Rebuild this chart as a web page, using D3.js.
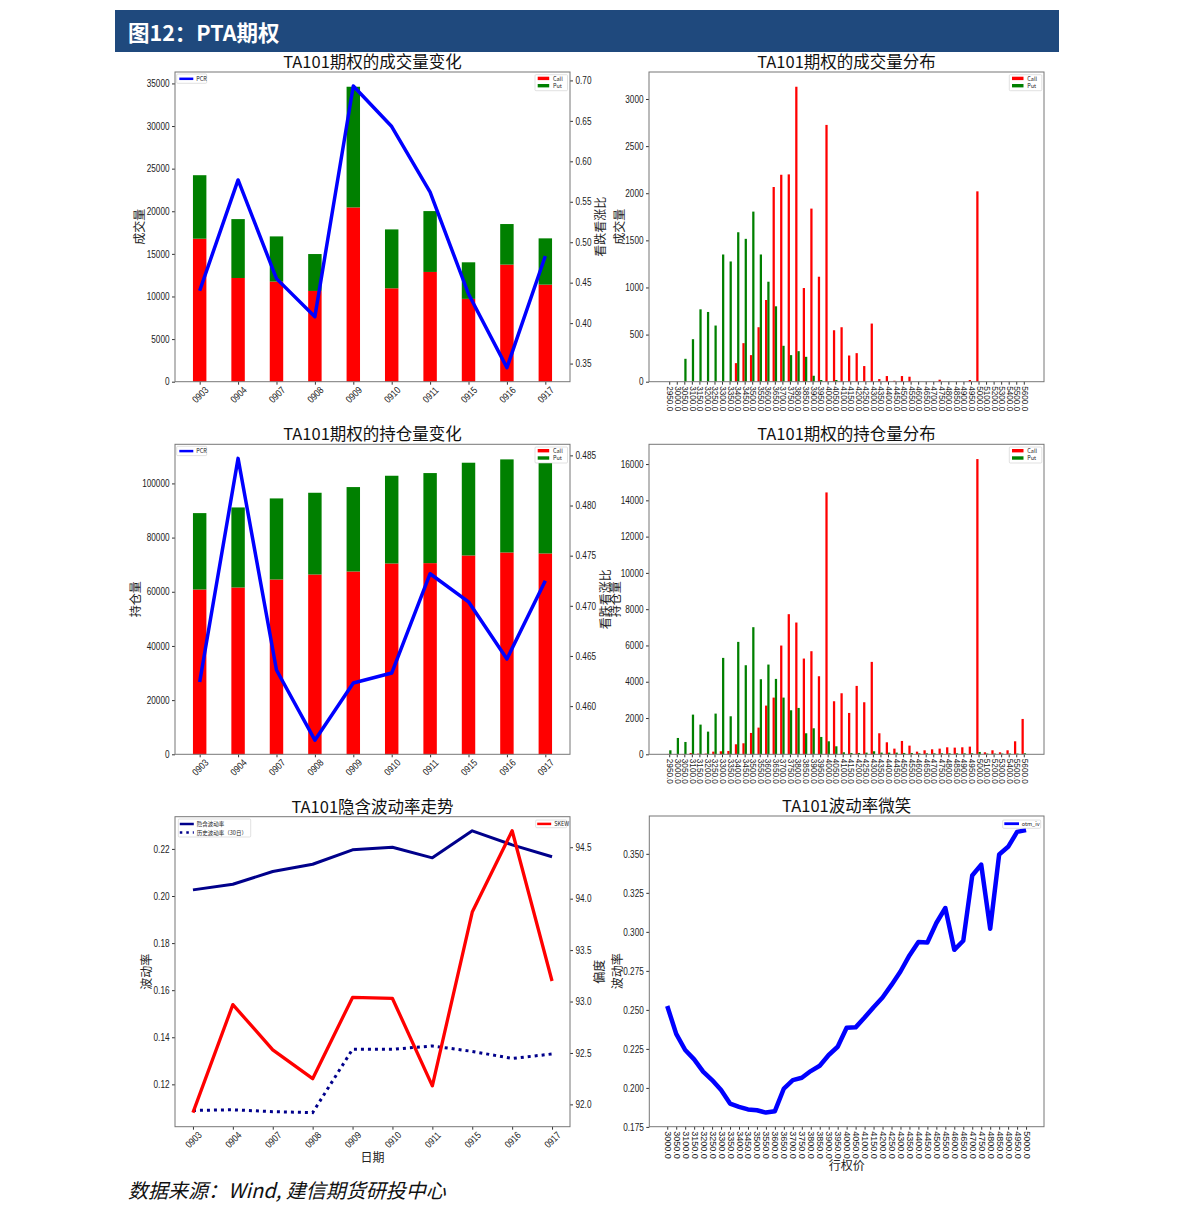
<!DOCTYPE html>
<html><head><meta charset="utf-8">
<script src="https://cdn.jsdelivr.net/npm/d3@7"></script>
<style>body{margin:0;background:#fff}text{font-family:"Noto Sans CJK SC","Noto Sans",sans-serif}</style>
</head><body><svg id="c" width="1191" height="1221"></svg>
<script>
// ---------------- DATA ----------------
const dates = ["0903","0904","0907","0908","0909","0910","0911","0915","0916","0917"];
const volCall = [16780,12170,11750,10650,20450,10960,12880,9720,13740,11390];
const volPut  = [7450,6910,5300,4330,14160,6910,7140,4290,4760,5430];
const volPCR  = [0.440,0.577,0.455,0.408,0.693,0.643,0.562,0.436,0.345,0.483];
const oiCall  = [60840,61580,64530,66380,67490,70440,70570,73400,74510,74140];
const oiPut   = [28200,29550,29930,30170,31160,32390,33250,34240,34360,34850];
const oiPCR   = [0.4624,0.4847,0.4636,0.4566,0.4623,0.4633,0.4732,0.4704,0.4647,0.4725];
const ivImplied = [0.2026,0.2050,0.2104,0.2135,0.2196,0.2207,0.2162,0.2277,0.2217,0.2167];
const ivHist    = [0.1089,0.1092,0.1084,0.1080,0.1349,0.1349,0.1363,0.1340,0.1310,0.1329];
const skew      = [91.92,92.97,92.53,92.25,93.04,93.03,92.18,93.87,94.66,93.20];

const strikeLabels = ["2950.0","3000.0","3050.0","3100.0","3150.0","3200.0","3250.0","3300.0","3350.0","3400.0","3450.0","3500.0","3550.0","3600.0","3650.0","3700.0","3750.0","3800.0","3850.0","3900.0","3950.0","4000.0","4050.0","4100.0","4150.0","4200.0","4250.0","4300.0","4350.0","4400.0","4450.0","4500.0","4550.0","4600.0","4650.0","4700.0","4750.0","4800.0","4850.0","4900.0","4950.0","5000.0","5100.0","5200.0","5300.0","5400.0","5500.0","5600.0"];
const strikeVolCall = [0,0,0,0,0,0,0,0,0,197,409,282,578,867,2066,2196,2200,3130,994,1837,1114,2725,546,578,278,303,166,617,28,60,10,60,53,0,0,0,21,0,0,0,18,2020,0,0,0,0,0,0];
const strikeVolPut  = [0,0,243,451,768,740,596,1350,1276,1586,1516,1805,1350,1061,800,381,282,324,264,63,18,0,18,0,0,0,0,0,0,0,0,0,0,0,0,0,0,0,0,0,0,0,0,0,0,0,0,0];
const strikeOiCall  = [18,18,18,74,37,37,147,166,184,552,607,1177,1471,2685,3126,5995,7724,7264,5278,5683,4303,14436,2924,3365,2280,3770,2869,5094,1159,662,313,736,478,147,221,276,313,386,368,386,423,16275,110,221,110,221,717,1949];
const strikeOiPut   = [221,901,680,2188,1637,1250,2244,5315,2096,6197,4910,7007,4138,4947,4156,3126,2427,2556,1159,1434,956,717,441,110,74,74,92,166,92,92,92,74,74,55,55,55,55,55,55,55,55,129,40,40,40,40,40,55];

const smileStrikes = ["3000.0","3050.0","3100.0","3150.0","3200.0","3250.0","3300.0","3350.0","3400.0","3450.0","3500.0","3550.0","3600.0","3650.0","3700.0","3750.0","3800.0","3850.0","3900.0","3950.0","4000.0","4050.0","4100.0","4150.0","4200.0","4250.0","4300.0","4350.0","4400.0","4450.0","4500.0","4550.0","4600.0","4650.0","4700.0","4750.0","4800.0","4850.0","4900.0","4950.0","5000.0"];
const smileIV = [0.2525,0.2346,0.2243,0.2183,0.2104,0.2050,0.1986,0.1900,0.1879,0.1862,0.1857,0.1842,0.1851,0.1996,0.2050,0.2065,0.2108,0.2142,0.2211,0.2264,0.2386,0.2388,0.2451,0.2517,0.2579,0.2660,0.2746,0.2849,0.2935,0.2932,0.3057,0.3153,0.2885,0.2943,0.3361,0.3431,0.3020,0.3496,0.3545,0.3641,0.3652];

const volTicks = [0,5000,10000,15000,20000,25000,30000,35000];
const volPcrTicks = [0.35,0.40,0.45,0.50,0.55,0.60,0.65,0.70];
const oiTicks = [0,20000,40000,60000,80000,100000];
const oiPcrTicks = [0.460,0.465,0.470,0.475,0.480,0.485];
const strikeVolTicks = [0,500,1000,1500,2000,2500,3000];
const strikeOiTicks = [0,2000,4000,6000,8000,10000,12000,14000,16000];
const ivTicks = [0.12,0.14,0.16,0.18,0.20,0.22];
const skewTicks = [92.0,92.5,93.0,93.5,94.0,94.5];
const smileTicks = [0.175,0.200,0.225,0.250,0.275,0.300,0.325,0.350];

// ---------------- STYLE ----------------
const RED="#ff0000", GREEN="#008000", BLUE="#0000ff", NAVY="#00008b";
const NUMFONT='"Liberation Sans",sans-serif';
const TS=3, TP=2.5;
const svg = d3.select("#c");

// header
svg.append("rect").attr("x",115).attr("y",10).attr("width",944).attr("height",42).attr("fill","#1f497d");
svg.append("text").attr("x",128).attr("y",40.5).attr("fill","#fff").attr("font-size",21.5).attr("font-weight","bold").text("图12：PTA期权");
// footer
svg.append("text").attr("x",128).attr("y",1198).attr("font-size",20).attr("font-style","italic").attr("fill","#111").text("数据来源：Wind, 建信期货研投中心");

function styleAxis(sel, fs, squeeze){
  sel.selectAll("path").remove();
  sel.selectAll("line").attr("stroke","#333");
  sel.selectAll("text").attr("font-size",fs||10).attr("fill","#222").style("font-family",NUMFONT)
    .each(function(){
      if(squeeze===false) return;
      const L=this.getComputedTextLength();
      d3.select(this).attr("textLength",L*0.82).attr("lengthAdjust","spacingAndGlyphs");
    });
}
function frame(g,r){
  g.append("rect").attr("x",r.x0).attr("y",r.y0).attr("width",r.x1-r.x0).attr("height",r.y1-r.y0)
   .attr("fill","none").attr("stroke","#777").attr("stroke-width",1);
}
function title(g,r,t){
  g.append("text").attr("x",(r.x0+r.x1)/2).attr("y",r.y0-4).attr("text-anchor","middle").attr("font-size",16.5).attr("fill","#111").text(t);
}
function yLabel(g,x,y,t){
  g.append("text").attr("transform",`translate(${x},${y}) rotate(-90)`).attr("text-anchor","middle")
   .attr("dominant-baseline","central").attr("font-size",12).attr("fill","#222").text(t);
}
function legendBox(g,x,y,w,h){
  g.append("rect").attr("x",x).attr("y",y).attr("width",w).attr("height",h).attr("fill","#fff").attr("stroke","#ccc").attr("stroke-width",0.6).attr("rx",1);
}
function legText(g,x,y,t){
  g.append("text").attr("x",x).attr("y",y).attr("dominant-baseline","central").attr("font-size",5.5).attr("fill","#222").text(t);
}
function callPutLegend(g,x,y){
  legendBox(g,x,y,32.5,16);
  g.append("rect").attr("x",x+2.7).attr("y",y+2).attr("width",11.5).attr("height",3.4).attr("fill",RED);
  legText(g,x+18,y+3.8,"Call");
  g.append("rect").attr("x",x+2.7).attr("y",y+9.3).attr("width",11.5).attr("height",3.4).attr("fill",GREEN);
  legText(g,x+18,y+11.1,"Put");
}
function pcrLegend(g,x,y){
  legendBox(g,x,y,30,9.3);
  g.append("line").attr("x1",x+2.6).attr("x2",x+16.6).attr("y1",y+4.8).attr("y2",y+4.8).attr("stroke",BLUE).attr("stroke-width",2.5);
  legText(g,x+19.5,y+4.8,"PCR");
}
function rotDates(ax){
  ax.selectAll("text").attr("text-anchor","middle").attr("dy",null).attr("y",null)
    .attr("dominant-baseline","central").attr("transform","translate(0,13) rotate(-45)");
}
function rotStrikes(ax){
  ax.selectAll("text").attr("text-anchor","start").attr("dy",null).attr("y",null)
    .attr("dominant-baseline","central").attr("transform","translate(0,4.5) rotate(90)");
}

// -------- bar + PCR line charts --------
function barLineChart(r, ttl, lab, calls, puts, pcr, yTicks, y2Ticks, y2Fmt, labOff, lab2Off){
  const g = svg.append("g");
  const n = dates.length, bw = 0.35;
  const lo = -bw/2, hi = n-1+bw/2, pad = (hi-lo)*0.05;
  const x = d3.scaleLinear().domain([lo-pad,hi+pad]).range([r.x0,r.x1]);
  const tot = calls.map((c,i)=>c+puts[i]);
  const y = d3.scaleLinear().domain([0,d3.max(tot)*1.05]).range([r.y1,r.y0]);
  const [mn,mx] = d3.extent(pcr), p2=(mx-mn)*0.05;
  const y2 = d3.scaleLinear().domain([mn-p2,mx+p2]).range([r.y1,r.y0]);
  const w = x(bw)-x(0);
  g.selectAll(".c").data(calls).join("rect").attr("x",(d,i)=>x(i)-w/2).attr("width",w)
   .attr("y",d=>y(d)).attr("height",d=>y(0)-y(d)).attr("fill",RED);
  g.selectAll(".p").data(puts).join("rect").attr("x",(d,i)=>x(i)-w/2).attr("width",w)
   .attr("y",(d,i)=>y(d+calls[i])).attr("height",(d,i)=>y(calls[i])-y(d+calls[i])).attr("fill",GREEN);
  g.append("path").datum(pcr).attr("d",d3.line().x((d,i)=>x(i)).y(d=>y2(d)))
   .attr("fill","none").attr("stroke",BLUE).attr("stroke-width",3.5).attr("stroke-linejoin","round");
  const ax = g.append("g").attr("transform",`translate(0,${r.y1})`)
    .call(d3.axisBottom(x).tickValues(d3.range(n)).tickFormat(i=>dates[i]).tickSize(TS).tickPadding(TP));
  styleAxis(ax); rotDates(ax);
  const ay = g.append("g").attr("transform",`translate(${r.x0},0)`)
    .call(d3.axisLeft(y).tickValues(yTicks).tickFormat(d3.format("d")).tickSize(TS).tickPadding(TP));
  styleAxis(ay);
  const ay2 = g.append("g").attr("transform",`translate(${r.x1},0)`)
    .call(d3.axisRight(y2).tickValues(y2Ticks).tickFormat(d3.format(y2Fmt)).tickSize(TS).tickPadding(TP));
  styleAxis(ay2);
  frame(g,r); title(g,r,ttl);
  yLabel(g,r.x0-labOff,(r.y0+r.y1)/2,lab);
  yLabel(g,r.x1+lab2Off,(r.y0+r.y1)/2,"看跌看涨比");
  pcrLegend(g,r.x0+1.7,r.y0+2);
  callPutLegend(g,r.x1-35,r.y0+2.7);
}

// -------- strike distribution bar charts --------
function strikeChart(r, ttl, lab, calls, puts, yTicks, labOff){
  const g = svg.append("g");
  const n = strikeLabels.length, bw = 0.3;
  const lo = -bw, hi = n-1+bw, pad=(hi-lo)*0.05;
  const x = d3.scaleLinear().domain([lo-pad,hi+pad]).range([r.x0,r.x1]);
  const y = d3.scaleLinear().domain([0,d3.max(calls.concat(puts))*1.05]).range([r.y1,r.y0]);
  const w = x(bw)-x(0);
  g.selectAll(".c").data(calls).join("rect").attr("x",(d,i)=>x(i)-w).attr("width",w)
   .attr("y",d=>y(d)).attr("height",d=>y(0)-y(d)).attr("fill",RED);
  g.selectAll(".p").data(puts).join("rect").attr("x",(d,i)=>x(i)).attr("width",w)
   .attr("y",d=>y(d)).attr("height",d=>y(0)-y(d)).attr("fill",GREEN);
  const ax = g.append("g").attr("transform",`translate(0,${r.y1})`)
    .call(d3.axisBottom(x).tickValues(d3.range(n)).tickFormat(i=>strikeLabels[i]).tickSize(TS).tickPadding(TP));
  styleAxis(ax,8.2,false); rotStrikes(ax);
  const ay = g.append("g").attr("transform",`translate(${r.x0},0)`)
    .call(d3.axisLeft(y).tickValues(yTicks).tickFormat(d3.format("d")).tickSize(TS).tickPadding(TP));
  styleAxis(ay,10);
  frame(g,r); title(g,r,ttl);
  yLabel(g,r.x0-labOff,(r.y0+r.y1)/2,lab);
  callPutLegend(g,r.x1-34.7,r.y0+2.7);
}

barLineChart({x0:175,x1:570,y0:72,y1:381.7},"TA101期权的成交量变化","成交量",volCall,volPut,volPCR,volTicks,volPcrTicks,".2f",37,29);
barLineChart({x0:175,x1:570,y0:444.3,y1:754.3},"TA101期权的持仓量变化","持仓量",oiCall,oiPut,oiPCR,oiTicks,oiPcrTicks,".3f",41,34);
strikeChart({x0:649,x1:1044,y0:72,y1:381.7},"TA101期权的成交量分布","成交量",strikeVolCall,strikeVolPut,strikeVolTicks,31);
strikeChart({x0:649,x1:1044,y0:444.3,y1:754.3},"TA101期权的持仓量分布","持仓量",strikeOiCall,strikeOiPut,strikeOiTicks,35);

// -------- volatility trend --------
(function(){
  const r={x0:175,x1:570,y0:816.7,y1:1126.7};
  const g=svg.append("g");
  const n=dates.length;
  const x=d3.scaleLinear().domain([-0.45,n-1+0.45]).range([r.x0,r.x1]);
  const all=ivImplied.concat(ivHist); const [mn,mx]=d3.extent(all), p=(mx-mn)*0.05;
  const y=d3.scaleLinear().domain([mn-p,mx+p]).range([r.y1,r.y0]);
  const [sm,sx]=d3.extent(skew), sp=(sx-sm)*0.05;
  const y2=d3.scaleLinear().domain([sm-sp,sx+sp]).range([r.y1,r.y0]);
  const L=(sc)=>d3.line().x((d,i)=>x(i)).y(d=>sc(d));
  g.append("path").datum(ivImplied).attr("d",L(y)).attr("fill","none").attr("stroke",NAVY).attr("stroke-width",3).attr("stroke-linejoin","round");
  g.append("path").datum(ivHist).attr("d",L(y)).attr("fill","none").attr("stroke",NAVY).attr("stroke-width",3).attr("stroke-dasharray","3,4");
  g.append("path").datum(skew).attr("d",L(y2)).attr("fill","none").attr("stroke",RED).attr("stroke-width",3.3).attr("stroke-linejoin","round");
  const ax=g.append("g").attr("transform",`translate(0,${r.y1})`)
    .call(d3.axisBottom(x).tickValues(d3.range(n)).tickFormat(i=>dates[i]).tickSize(TS).tickPadding(TP));
  styleAxis(ax); rotDates(ax);
  const ay=g.append("g").attr("transform",`translate(${r.x0},0)`)
    .call(d3.axisLeft(y).tickValues(ivTicks).tickFormat(d3.format(".2f")).tickSize(TS).tickPadding(TP));
  styleAxis(ay);
  const ay2=g.append("g").attr("transform",`translate(${r.x1},0)`)
    .call(d3.axisRight(y2).tickValues(skewTicks).tickFormat(d3.format(".1f")).tickSize(TS).tickPadding(TP));
  styleAxis(ay2);
  frame(g,r); title(g,r,"TA101隐含波动率走势");
  yLabel(g,r.x0-30,(r.y0+r.y1)/2,"波动率");
  yLabel(g,r.x1+28,(r.y0+r.y1)/2,"偏度");
  g.append("text").attr("x",(r.x0+r.x1)/2).attr("y",1162).attr("text-anchor","middle").attr("font-size",12).attr("fill","#222").text("日期");
  // legends
  const lx=r.x0+3.3, ly=r.y0+2.3;
  legendBox(g,lx,ly,72.4,18);
  g.append("line").attr("x1",lx+1.5).attr("x2",lx+15.5).attr("y1",ly+5).attr("y2",ly+5).attr("stroke",NAVY).attr("stroke-width",2.5);
  legText(g,lx+18.5,ly+5,"隐含波动率");
  g.append("line").attr("x1",lx+1.5).attr("x2",lx+15.5).attr("y1",ly+13.5).attr("y2",ly+13.5).attr("stroke",NAVY).attr("stroke-width",2.5).attr("stroke-dasharray","2.5,4");
  legText(g,lx+18.5,ly+13.5,"历史波动率（30日）");
  const rx=r.x1-34.3, ry=r.y0+3.3;
  legendBox(g,rx,ry,31,7.7);
  g.append("line").attr("x1",rx+1.5).attr("x2",rx+15.5).attr("y1",ry+3.9).attr("y2",ry+3.9).attr("stroke",RED).attr("stroke-width",2.5);
  legText(g,rx+18.5,ry+3.9,"SKEW");
})();

// -------- volatility smile --------
(function(){
  const r={x0:649.3,x1:1044,y0:816,y1:1126.7};
  const g=svg.append("g");
  const n=smileStrikes.length;
  const x=d3.scaleLinear().domain([-0.05*(n-1),(n-1)*1.05]).range([r.x0,r.x1]);
  const [mn,mx]=d3.extent(smileIV), p=(mx-mn)*0.05;
  const y=d3.scaleLinear().domain([mn-p,mx+p]).range([r.y1,r.y0]);
  g.append("path").datum(smileIV).attr("d",d3.line().x((d,i)=>x(i)).y(d=>y(d)))
   .attr("fill","none").attr("stroke",BLUE).attr("stroke-width",4.5).attr("stroke-linejoin","round");
  const ax=g.append("g").attr("transform",`translate(0,${r.y1})`)
    .call(d3.axisBottom(x).tickValues(d3.range(n)).tickFormat(i=>smileStrikes[i]).tickSize(TS).tickPadding(TP));
  styleAxis(ax,9,false); rotStrikes(ax);
  const ay=g.append("g").attr("transform",`translate(${r.x0},0)`)
    .call(d3.axisLeft(y).tickValues(smileTicks).tickFormat(d3.format(".3f")).tickSize(TS).tickPadding(TP));
  styleAxis(ay,10);
  frame(g,r); title(g,r,"TA101波动率微笑");
  yLabel(g,r.x0-33,(r.y0+r.y1)/2,"波动率");
  g.append("text").attr("x",(r.x0+r.x1)/2).attr("y",1170).attr("text-anchor","middle").attr("font-size",12).attr("fill","#222").text("行权价");
  const lx=r.x1-41.3, ly=r.y0+4;
  legendBox(g,lx,ly,38,8.3);
  g.append("line").attr("x1",lx+1.6).attr("x2",lx+16.3).attr("y1",ly+3.7).attr("y2",ly+3.7).attr("stroke",BLUE).attr("stroke-width",2.8);
  legText(g,lx+19,ly+3.9,"otm_iv");
})();
</script></body></html>
